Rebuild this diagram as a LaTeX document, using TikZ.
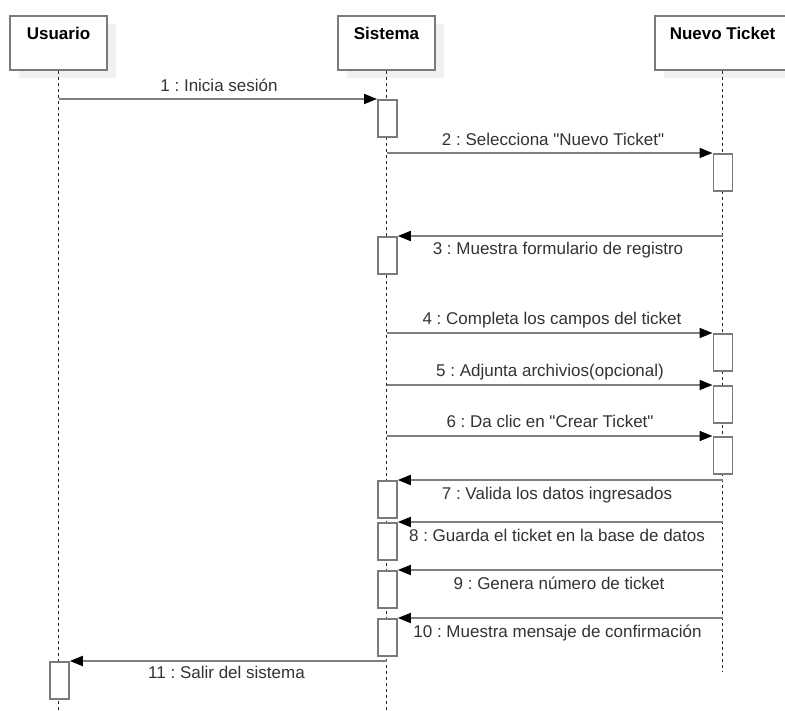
\documentclass[tikz,border=0pt]{standalone}
\usepackage{fontspec}
\setmainfont{Liberation Sans}
\usetikzlibrary{arrows.meta,shadows}
\definecolor{linegray}{HTML}{808080}
\definecolor{boxgray}{HTML}{7A7A7A}
\definecolor{shadowgray}{HTML}{F0F0F0}
\definecolor{txtgray}{HTML}{333333}
\frenchspacing
\begin{document}
\begin{tikzpicture}[x=1pt,y=-1pt,
  head/.style={draw=boxgray, line width=1.8pt, fill=white, inner sep=0pt,
    text height=24pt, text depth=30pt, anchor=north,
    font=\bfseries\fontsize{17}{20}\selectfont,
    drop shadow={shadow xshift=9pt, shadow yshift=-8pt, fill=shadowgray, opacity=1}},
  act/.style={draw=boxgray, line width=1.8pt, fill=white, inner sep=0pt,
    minimum width=19pt, minimum height=37pt, anchor=north west},
  life/.style={draw=black!85, line width=0.9pt, dash pattern=on 3pt off 3pt},
  msg/.style={draw=linegray, line width=1.8pt,
    -{Triangle[length=13pt,width=10pt,color=black]}},
  lbl/.style={font=\fontsize{17}{20}\selectfont, text=txtgray, anchor=base, inner sep=0pt}
  ]
\useasboundingbox (0,0) rectangle (785,711);
\clip (0,0) rectangle (785,711);
\fill[white] (0,0) rectangle (785,711);

% lifeline heads
\node[head, minimum width=97pt] (usr) at (58.5,15) {Usuario};
\node[head, minimum width=97pt] (sis) at (386.5,15) {Sistema};
\node[head, minimum width=135pt] (tkt) at (722.5,15) {Nuevo Ticket};

% lifelines
\coordinate (usrEnd) at (58.5,711);
\coordinate (sisEnd) at (386.5,711);
\coordinate (tktEnd) at (722.5,672);
\draw[life] (usr.south) -- (usrEnd);
\draw[life] (sis.south) -- (sisEnd);
\draw[life] (tkt.south) -- (tktEnd);

% activation boxes
\node[act] (s1) at (377,99) {};
\node[act] (n1) at (712.5,153) {};
\node[act] (s2) at (377,236) {};
\node[act] (n2) at (712.5,333) {};
\node[act] (n3) at (712.5,385) {};
\node[act] (n4) at (712.5,436) {};
\node[act] (s3) at (377,480) {};
\node[act] (s4) at (377,522) {};
\node[act] (s5) at (377,570) {};
\node[act] (s6) at (377,618) {};
\node[act] (u1) at (49,661) {};

% messages
\draw[msg] (usr.south |- s1.north) -- (s1.north west);
\draw[msg] (sis.south |- n1.north) -- (n1.north west);
\draw[msg] (tkt.south |- s2.north) -- (s2.north east);
\draw[msg] (sis.south |- n2.north) -- (n2.north west);
\draw[msg] (sis.south |- n3.north) -- (n3.north west);
\draw[msg] (sis.south |- n4.north) -- (n4.north west);
\draw[msg] (tkt.south |- s3.north) -- (s3.north east);
\draw[msg] (tkt.south |- s4.north) -- (s4.north east);
\draw[msg] (tkt.south |- s5.north) -- (s5.north east);
\draw[msg] (tkt.south |- s6.north) -- (s6.north east);
\draw[msg] (sis.south |- u1.north) -- (u1.north east);

% message labels
\node[lbl] (l1) at (219,92) {1 : Inicia sesión};
\node[lbl] (l2) at (553,146) {2 : Selecciona \textquotedbl Nuevo Ticket\textquotedbl};
\node[lbl] (l3) at (558,255) {3 : Muestra formulario de registro};
\node[lbl] (l4) at (552,325) {4 : Completa los campos del ticket};
\node[lbl] (l5) at (550,377) {5 : Adjunta archivios(opcional)};
\node[lbl] (l6) at (550,428) {6 : Da clic en \textquotedbl Crear Ticket\textquotedbl};
\node[lbl] (l7) at (557,499) {7 : Valida los datos ingresados};
\node[lbl] (l8) at (557,541) {8 : Guarda el ticket en la base de datos};
\node[lbl] (l9) at (559,589) {9 : Genera número de ticket};
\node[lbl] (l10) at (557.5,637) {10 : Muestra mensaje de confirmación};
\node[lbl] (l11) at (226.5,678) {11 : Salir del sistema};
\end{tikzpicture}
\end{document}
